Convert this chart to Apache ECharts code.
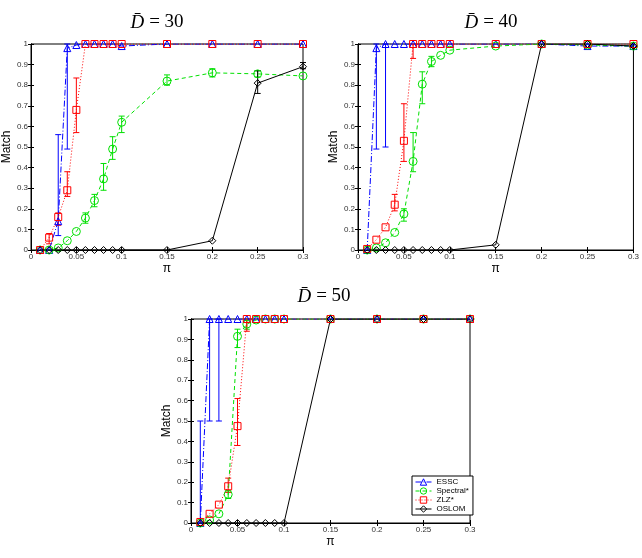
<!DOCTYPE html>
<html>
<head>
<meta charset="utf-8">
<script src="https://cdn.jsdelivr.net/npm/echarts@6/dist/echarts.min.js"></script>
<style>
  html, body { margin: 0; padding: 0; background: #fff; }
  #chart { width: 642px; height: 558px; }
</style>
</head>
<body>
<div id="chart"></div>
<script>
// pi values
const xs = [0.01, 0.02, 0.03, 0.04, 0.05, 0.06, 0.07, 0.08, 0.09, 0.1, 0.15, 0.2, 0.25, 0.3];
const methods = ["ESSC", "Spectral*", "ZLZ*", "OSLOM"];
const panelTitles = ["30", "40", "50"];

// D = 30
const essc30 = [0, 0, 0.14, 0.98, 0.995, 1, 1, 1, 1, 0.99, 1, 1, 1, 1];
const spec30 = [0, 0, 0.01, 0.045, 0.09, 0.155, 0.24, 0.345, 0.49, 0.62, 0.82, 0.86, 0.855, 0.845];
const zlz30 = [0, 0.06, 0.16, 0.29, 0.68, 1, 1, 1, 1, 1, 1, 1, 1, 1];
const oslom30 = [0, 0, 0, 0, 0, 0, 0, 0, 0, 0, 0, 0.045, 0.81, 0.89];
// error bars: [pi, low, high]
const esscErr30 = [[0.03, 0.07, 0.56], [0.04, 0.49, 1]];
const specErr30 = [[0.06, 0.13, 0.18], [0.07, 0.21, 0.27], [0.08, 0.29, 0.42], [0.09, 0.44, 0.55],
  [0.1, 0.57, 0.65], [0.15, 0.8, 0.85], [0.2, 0.84, 0.88], [0.25, 0.84, 0.87]];
const zlzErr30 = [[0.02, 0.03, 0.08], [0.03, 0.12, 0.18], [0.04, 0.26, 0.38], [0.05, 0.57, 0.835]];
const oslomErr30 = [[0.25, 0.76, 0.87], [0.3, 0.88, 0.91]];

// D = 40
const essc40 = [0, 0.98, 1, 1, 1, 1, 1, 1, 1, 1, 1, 1, 0.99, 0.99];
const spec40 = [0, 0.01, 0.035, 0.085, 0.175, 0.43, 0.805, 0.915, 0.945, 0.97, 0.99, 1, 0.995, 0.99];
const zlz40 = [0.005, 0.05, 0.11, 0.22, 0.53, 1, 1, 1, 1, 1, 1, 1, 1, 1];
const oslom40 = [0, 0, 0, 0, 0, 0, 0, 0, 0, 0, 0.025, 1, 1, 0.99];
const esscErr40 = [[0.02, 0.49, 1], [0.03, 0.5, 1]];
const specErr40 = [[0.05, 0.14, 0.2], [0.06, 0.38, 0.57], [0.07, 0.71, 0.865], [0.08, 0.89, 0.94]];
const zlzErr40 = [[0.04, 0.19, 0.27], [0.05, 0.43, 0.71], [0.06, 0.93, 1]];
const oslomErr40 = [];

// D = 50
const essc50 = [0, 1, 1, 1, 1, 1, 1, 1, 1, 1, 1, 1, 1, 1];
const spec50 = [0, 0.015, 0.045, 0.14, 0.915, 0.975, 0.995, 1, 1, 1, 1, 1, 1, 1];
const zlz50 = [0.005, 0.045, 0.09, 0.18, 0.475, 1, 1, 1, 1, 1, 1, 1, 1, 1];
const oslom50 = [0, 0, 0, 0, 0, 0, 0, 0, 0, 0, 1, 1, 1, 1];
const esscErr50 = [[0.01, 0, 0.5], [0.02, 0.5, 1], [0.03, 0.5, 1]];
const specErr50 = [[0.04, 0.12, 0.16], [0.05, 0.86, 0.95], [0.06, 0.95, 1]];
const zlzErr50 = [[0.04, 0.15, 0.22], [0.05, 0.38, 0.61], [0.06, 0.94, 1]];
const oslomErr50 = [];

const means = [
  [essc30, spec30, zlz30, oslom30],
  [essc40, spec40, zlz40, oslom40],
  [essc50, spec50, zlz50, oslom50],
];
const errs = [
  [esscErr30, specErr30, zlzErr30, oslomErr30],
  [esscErr40, specErr40, zlzErr40, oslomErr40],
  [esscErr50, specErr50, zlzErr50, oslomErr50],
];

const colors = ["#0000ff", "#00e000", "#ff0000", "#000000"];
const symbols = ["triangle", "circle", "rect", "diamond"];
const symbolSizes = [7, 8, 7, 7];
const dashes = [[6, 2, 1, 2], [4, 3], [1, 2], "solid"];

const grids = [
  { left: 24, top: 44, width: 279, height: 206 },
  { left: 358, top: 44, width: 278, height: 206 },
  { left: 191, top: 319, width: 279, height: 204 },
];
const titlePos = [[152, 8], [486, 8], [319, 282]];

const font = "Liberation Sans";
const labelStyle = { fontSize: 8, color: "#333", fontFamily: font };

const chart = echarts.init(document.getElementById("chart"), null, { renderer: "canvas" });

const xAxes = [];
const yAxes = [];
grids.forEach((g, i) => {
  xAxes.push({
    gridIndex: i, type: "value", min: 0, max: 0.3, interval: 0.05,
    name: "π", nameLocation: "middle", nameGap: 13,
    nameTextStyle: { fontSize: 12, color: "#000", fontFamily: font },
    axisLine: { lineStyle: { color: "#000", width: 1 } },
    axisTick: { inside: true, length: 3, lineStyle: { color: "#000" } },
    axisLabel: Object.assign({ margin: 3 }, labelStyle),
    splitLine: { show: false },
  });
  yAxes.push({
    gridIndex: i, type: "value", min: 0, max: 1, interval: 0.1,
    name: "Match", nameLocation: "middle", nameGap: 18,
    nameTextStyle: { fontSize: 12, color: "#000", fontFamily: font },
    axisLine: { lineStyle: { color: "#000", width: 1 } },
    axisTick: { inside: true, length: 3, lineStyle: { color: "#000" } },
    axisLabel: Object.assign({ margin: 3 }, labelStyle),
    splitLine: { show: false },
  });
});
// mirrored ticks on top and right edges
grids.forEach((g, i) => {
  xAxes.push({
    gridIndex: i, type: "value", min: 0, max: 0.3, interval: 0.05, position: "top",
    axisLine: { lineStyle: { color: "#000" } },
    axisTick: { inside: true, length: 3, lineStyle: { color: "#000" } },
    axisLabel: { show: false }, splitLine: { show: false },
  });
  yAxes.push({
    gridIndex: i, type: "value", min: 0, max: 1, interval: 0.1, position: "right",
    axisLine: { lineStyle: { color: "#000" } },
    axisTick: { inside: true, length: 3, lineStyle: { color: "#000" } },
    axisLabel: { show: false }, splitLine: { show: false },
  });
});

const renderErr = (color) => (params, api) => {
  const x = api.value(0);
  const p1 = api.coord([x, api.value(1)]);
  const p2 = api.coord([x, api.value(2)]);
  const cap = 3;
  const style = { stroke: color, lineWidth: 1 };
  return {
    type: "group",
    children: [
      { type: "line", shape: { x1: p1[0], y1: p1[1], x2: p2[0], y2: p2[1] }, style },
      { type: "line", shape: { x1: p1[0] - cap, y1: p1[1], x2: p1[0] + cap, y2: p1[1] }, style },
      { type: "line", shape: { x1: p2[0] - cap, y1: p2[1], x2: p2[0] + cap, y2: p2[1] }, style },
    ],
  };
};

const series = [];
for (let p = 0; p < 3; p++) {
  for (let m = 0; m < 4; m++) {
    series.push({
      name: methods[m] + " err " + p,
      type: "custom",
      xAxisIndex: p, yAxisIndex: p,
      renderItem: renderErr(colors[m]),
      encode: { x: 0, y: [1, 2] },
      data: errs[p][m],
      silent: true,
      z: 2,
    });
  }
  for (let m = 0; m < 4; m++) {
    series.push({
      name: methods[m],
      type: "line",
      xAxisIndex: p, yAxisIndex: p,
      data: xs.map((x, k) => [x, means[p][m][k]]),
      symbol: symbols[m],
      symbolSize: symbolSizes[m],
      showAllSymbol: true,
      color: colors[m],
      itemStyle: { color: "rgba(255,255,255,0)", borderColor: colors[m], borderWidth: 1 },
      lineStyle: { color: colors[m], width: 1, type: dashes[m] },
      emphasis: { disabled: true },
      z: 3,
    });
  }
}

const option = {
  backgroundColor: "#fff",
  animation: false,
  title: panelTitles.map((t, i) => ({
    text: "{d|D\u0304} {t|= " + t + "}",
    left: titlePos[i][0], top: titlePos[i][1], textAlign: "center",
    textStyle: {
      fontWeight: "normal",
      rich: {
        d: { fontFamily: "Liberation Serif", fontStyle: "italic", fontWeight: "normal", fontSize: 19, color: "#000" },
        t: { fontFamily: "Liberation Serif", fontWeight: "normal", fontSize: 19, color: "#000" },
      },
    },
  })),
  grid: grids.map((g) => Object.assign({ show: true, borderColor: "#000", borderWidth: 1, backgroundColor: "#fff" }, g)),
  xAxis: xAxes,
  yAxis: yAxes,
  legend: {
    data: methods,
    orient: "vertical",
    left: 412, top: 476,
    width: 57,
    padding: [2, 4, 2, 3],
    itemGap: 1,
    itemWidth: 16, itemHeight: 8,
    itemStyle: { borderWidth: 1 },
    lineStyle: { width: 1 },
    backgroundColor: "#fff",
    borderColor: "#000", borderWidth: 1,
    textStyle: { fontSize: 8, color: "#000", fontFamily: font },
  },
  series: series,
};

chart.setOption(option);
</script>
</body>
</html>
